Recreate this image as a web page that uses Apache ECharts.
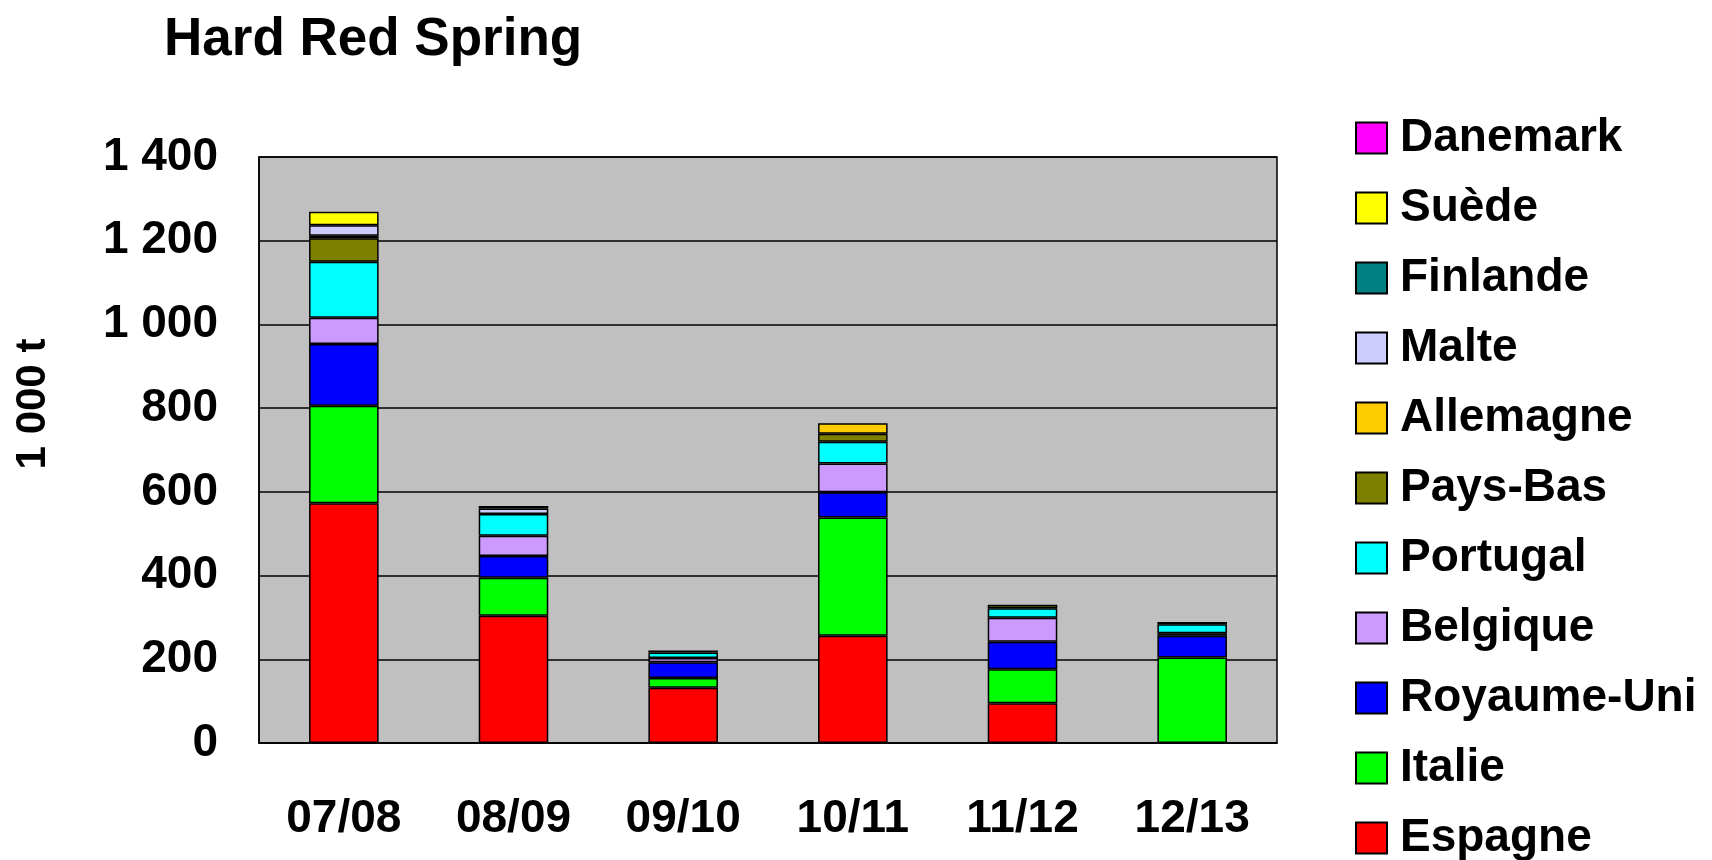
<!DOCTYPE html>
<html>
<head>
<meta charset="utf-8">
<script src="https://cdn.jsdelivr.net/npm/echarts@6/dist/echarts.min.js"></script>
<style>
  html, body { margin: 0; padding: 0; background: #fff; }
  #chart { width: 1712px; height: 860px; }
</style>
</head>
<body>
<div id="chart"></div>
<script>
  // campagnes
  var campagnes = ['07/08', '08/09', '09/10', '10/11', '11/12', '12/13'];

  // volumes par pays (1 000 t)
  var espagne    = [573, 304, 132, 256, 95, 0];
  var italie     = [233, 91, 23, 283, 81, 204];
  var royaumeUni = [147, 52, 38, 60, 66, 52];
  var belgique   = [63, 48, 10, 69, 57, 6];
  var portugal   = [134, 52, 13, 52, 23, 22];
  var paysBas    = [56, 0, 0, 19, 8, 0];
  var allemagne  = [6, 0, 0, 25, 0, 0];
  var malte      = [25, 13, 0, 0, 0, 0];
  var finlande   = [0, 6, 5, 0, 0, 5];
  var suede      = [32, 0, 0, 0, 0, 0];
  var danemark   = [0, 0, 0, 0, 0, 0];

  var yTicks = [0, 200, 400, 600, 800, 1000, 1200, 1400];

  // ordre d'empilement, du bas vers le haut
  var pays = [
    {name: 'Espagne', data: espagne, color: '#FF0000'},
    {name: 'Italie', data: italie, color: '#00FF00'},
    {name: 'Royaume-Uni', data: royaumeUni, color: '#0000FF'},
    {name: 'Belgique', data: belgique, color: '#CC99FF'},
    {name: 'Portugal', data: portugal, color: '#00FFFF'},
    {name: 'Pays-Bas', data: paysBas, color: '#808000'},
    {name: 'Allemagne', data: allemagne, color: '#FFCC00'},
    {name: 'Malte', data: malte, color: '#CCCCFF'},
    {name: 'Finlande', data: finlande, color: '#008080'},
    {name: 'Suède', data: suede, color: '#FFFF00'},
    {name: 'Danemark', data: danemark, color: '#FF00FF'}
  ];

  var font = "'Liberation Sans', Arial, sans-serif";

  function setupSeries() {
    var series = [];
    pays.forEach(function (p) {
      series.push({
        type: 'bar',
        name: p.name,
        stack: 'total',
        barWidth: '41%',
        data: p.data.map(function (v) { return v > 0 ? v : '-'; }),
        itemStyle: {color: p.color, borderColor: '#000', borderWidth: 1.5},
        emphasis: {disabled: true}
      });
    });
    return series;
  }

  var chart = echarts.init(document.getElementById('chart'));
  chart.setOption({
    animation: false,
    title: {
      text: 'Hard Red Spring',
      left: 159,
      top: 9,
      textStyle: {fontFamily: font, fontSize: 53, fontWeight: 'bold', color: '#000'}
    },
    legend: {
      orient: 'vertical',
      left: 1355,
      top: 115,
      width: 357,
      height: 760,
      padding: 0,
      itemWidth: 31,
      itemHeight: 31,
      itemGap: 24,
      icon: 'rect',
      selectedMode: false,
      data: pays.map(function (p) { return p.name; }).reverse(),
      textStyle: {fontFamily: font, fontSize: 46, fontWeight: 'bold', color: '#000', padding: [0, 0, 0, 8]}
    },
    grid: {
      left: 259, right: 435, top: 157, bottom: 117,
      outerBoundsMode: 'none',
      containLabel: false,
      show: true,
      backgroundColor: '#C0C0C0',
      borderColor: '#000',
      borderWidth: 1.5
    },
    graphic: [{
      type: 'text',
      x: 33,
      y: 404,
      rotation: Math.PI / 2,
      style: {
        text: '1 000 t',
        fontFamily: font, fontSize: 42, fontWeight: 'bold', fill: '#000',
        align: 'center', verticalAlign: 'middle'
      }
    }],
    xAxis: {
      type: 'category',
      data: campagnes,
      axisLine: {lineStyle: {color: '#000', width: 1.5}},
      axisTick: {show: false},
      axisLabel: {fontFamily: font, fontSize: 46, fontWeight: 'bold', color: '#000', margin: 53}
    },
    yAxis: {
      type: 'value',
      min: yTicks[0],
      max: yTicks[yTicks.length - 1],
      interval: 200,
      axisLine: {show: true, lineStyle: {color: '#000', width: 1.5}},
      axisTick: {show: false},
      splitLine: {lineStyle: {color: '#000', width: 1.5}},
      axisLabel: {
        fontFamily: font, fontSize: 46, fontWeight: 'bold', color: '#000', margin: 41,
        formatter: function (v) { return String(v).replace(/\B(?=(\d{3})+(?!\d))/g, ' '); }
      }
    },
    series: setupSeries()
  });
</script>
</body>
</html>
